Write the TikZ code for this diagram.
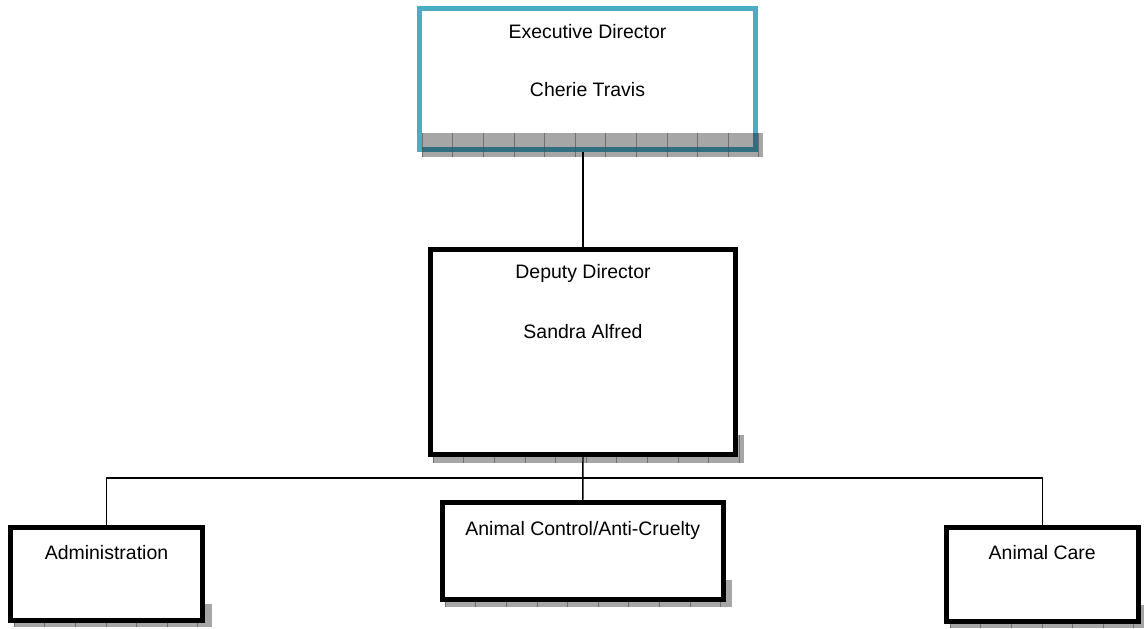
\documentclass[tikz,border=0pt]{standalone}
\usepackage{fontspec}
\setmainfont{Liberation Sans}
\definecolor{execblue}{RGB}{75,172,198}
\tikzset{
  shd/.style={fill=black, fill opacity=0.35, draw=none,
    path picture={\foreach \i in {0,...,14}
      \draw[black!70, line width=0.4pt, draw opacity=0.6]
        ([xshift=\i*22.95pt]path picture bounding box.south west) -- ++(0,40pt);}}
}
\begin{document}
\begin{tikzpicture}[x=0.75pt, y=-0.75pt,
    box/.style={draw, line width=3.75pt, fill=white, minimum width=#1, inner sep=0pt},
    lbl/.style={font=\fontsize{14.6}{17}\selectfont, inner sep=0pt},
    conn/.style={line width=1.1pt}
  ]
    \useasboundingbox (0,0) rectangle (1144,628);

    % shadows behind the lower boxes
    \fill[shd] (433,435) rectangle (744,463);
    \fill[shd] (445,580) rectangle (732,607);
    \fill[shd] (14,604) rectangle (212,627);
    \fill[shd] (950,605) rectangle (1144,628);

    % boxes
    \node[box=252pt, draw=execblue, minimum height=106.1pt] (exec) at (587.5,79.25) {};
    \node[box=228.75pt, minimum height=153.4pt] (dep)  at (583,351.75) {};
    \node[box=210.75pt, minimum height=72.4pt]  (ctl)  at (582.75,551.25) {};
    \node[box=144pt, minimum height=69.75pt]    (adm)  at (106.5,573.5) {};
    \node[box=144.4pt, minimum height=70.5pt]   (care) at (1042.25,574) {};

    % shadow over the top box
    \fill[shd] (422,133) rectangle (763,157);

    \node[lbl] (exect) at (587.5,32) {Executive Director};
    \node[lbl] (execn) at (587.5,90) {Cherie Travis};
    \node[lbl] (dept)  at (583,273) {Deputy Director};
    \node[lbl] (depn)  at (583,332) {Sandra Alfred};
    \node[lbl] (ctlt)  at (582.75,530) {Animal Control/Anti-Cruelty};
    \node[lbl] (admt)  at (106.5,553) {Administration};
    \node[lbl] (caret) at (1042.25,553) {Animal Care};

    % connectors
    \coordinate (bus) at (583,478);
    \draw[conn] (exec.south -| dep.north) -- (dep.north);
    \draw[conn] (dep.south) -- (ctl.north);
    \draw[conn] (adm.north) |- (bus) -| (care.north);
  \end{tikzpicture}
\end{document}
